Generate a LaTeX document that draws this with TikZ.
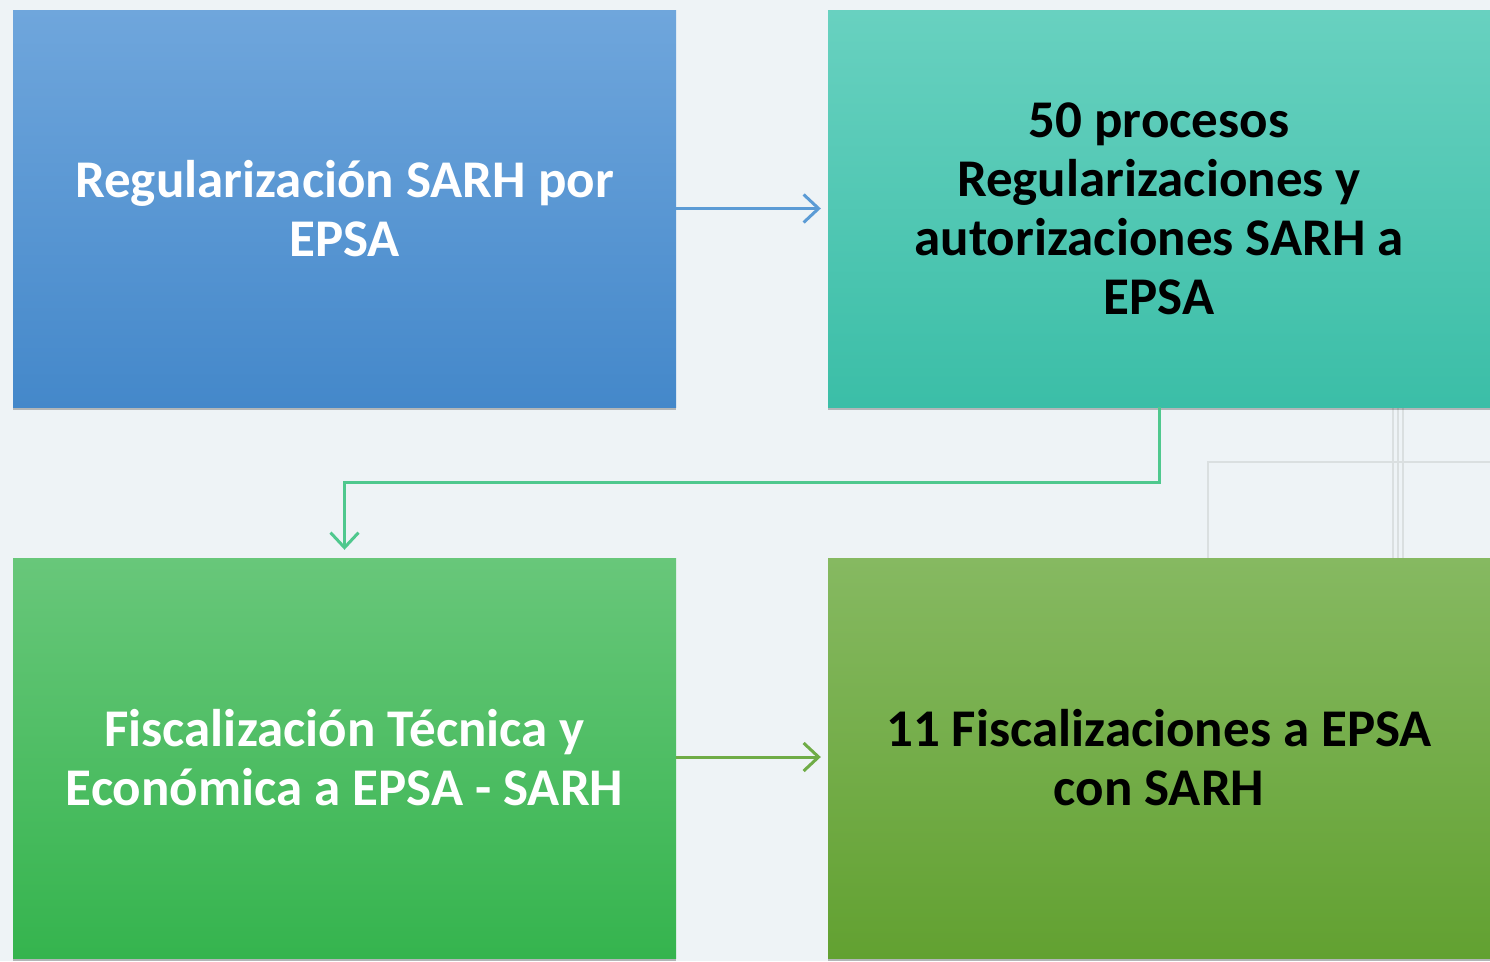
\documentclass[tikz,border=0pt]{standalone}
\usepackage{fontspec}
\setmainfont{Carlito}
\usetikzlibrary{shadows,arrows.meta}
\definecolor{bg}{HTML}{EEF3F6}
\definecolor{aT}{HTML}{6FA6DC}
\definecolor{aB}{HTML}{4488CA}
\definecolor{bT}{HTML}{68D1C0}
\definecolor{bB}{HTML}{3BBEA7}
\definecolor{cT}{HTML}{68C77A}
\definecolor{cB}{HTML}{35B44E}
\definecolor{dT}{HTML}{86B961}
\definecolor{dB}{HTML}{62A131}
\definecolor{lnA}{HTML}{5B9BD5}
\definecolor{lnB}{HTML}{4FC88E}
\definecolor{lnC}{HTML}{6FAC46}
\definecolor{patt}{HTML}{DADFE0}
\tikzset{
  box/.style={rectangle, draw=none, inner sep=0pt, align=center,
    minimum width=663pt, minimum height=397pt,
    font=\bfseries\fontsize{53}{59}\selectfont,
    drop shadow={shadow xshift=0pt, shadow yshift=-3pt, opacity=0.25, fill=black}},
  conn/.style={line width=3pt, -{Straight Barb[length=15pt,width=28pt,line width=3pt]}},
}
\begin{document}
\begin{tikzpicture}[x=1pt,y=1pt]
\fill[bg] (0,0) rectangle (1490,-961);
\useasboundingbox (0,0) rectangle (1490,-961);
% faint background ornament
\begin{scope}[patt, line width=2pt]
\draw (1208,-462) rectangle (1393,-562);
\draw (1393,-407) -- (1393,-562);
\draw (1398,-407) -- (1398,-562);
\draw (1403,-407) -- (1403,-562);
\draw (1393,-462) -- (1490,-462);
\end{scope}
\node[box, top color=aT, bottom color=aB, text=white] (a) at (344.5,-208.5)
  {Regularización SARH por\\EPSA};
\node[box, top color=bT, bottom color=bB, minimum width=662pt, text=black] (b) at (1159,-208.5)
  {50 procesos\\Regularizaciones y\\autorizaciones SARH a\\EPSA};
\node[box, top color=cT, bottom color=cB, minimum height=400pt, text=white] (c) at (344.5,-758)
  {Fiscalización Técnica y\\Económica a EPSA - SARH};
\node[box, top color=dT, bottom color=dB, minimum width=662pt, minimum height=400pt, text=black] (d) at (1159,-758)
  {11 Fiscalizaciones a EPSA\\con SARH};
\draw[conn, lnA] (a.east) -- ([xshift=-7pt]b.west);
\draw[conn, lnB] (b.south) -- ([yshift=-75pt]b.south) -| ([yshift=8pt]c.north);
\draw[conn, lnC] ([yshift=1pt]c.east) -- ([xshift=-7pt,yshift=1pt]d.west);
\end{tikzpicture}
\end{document}
